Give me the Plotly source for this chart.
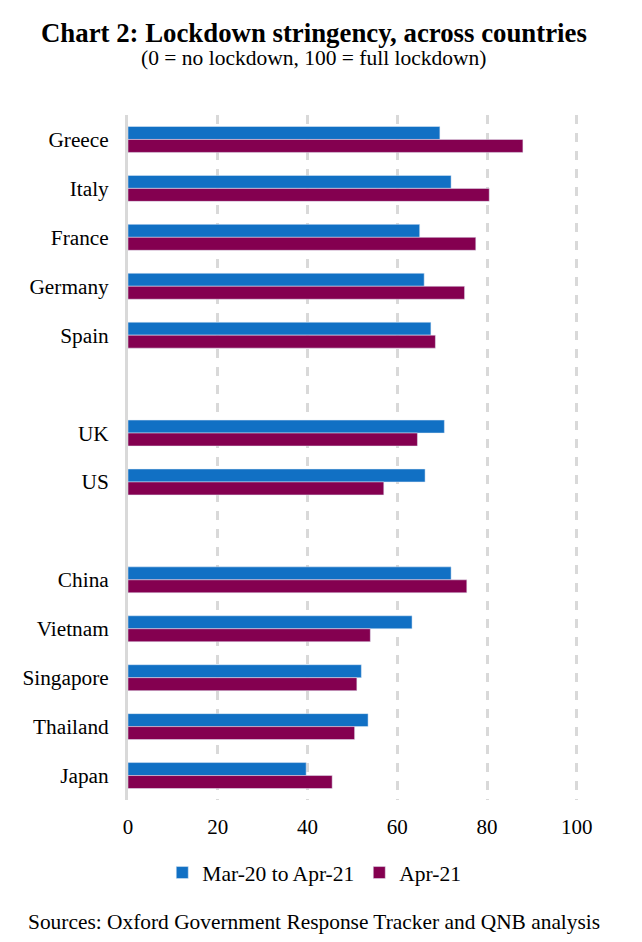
import plotly.graph_objects as go

# blank names keep the gaps between country groups
countries = ['Greece', 'Italy', 'France', 'Germany', 'Spain', ' ', 'UK', 'US', '  ',
             'China', 'Vietnam', 'Singapore', 'Thailand', 'Japan']
avg_period = [69.5, 72, 65, 66, 67.5, None, 70.5, 66.2, None, 72, 63.3, 52, 53.5, 39.7]
apr_21 = [88, 80.5, 77.5, 75, 68.5, None, 64.5, 57, None, 75.5, 54, 51, 50.5, 45.5]
x_ticks = [0, 20, 40, 60, 80, 100]

FONT = 'Liberation Serif'
BLUE = '#1170C4'
MAROON = '#840050'

fig = go.Figure()
fig.add_trace(go.Bar(y=countries, x=avg_period, name='Mar-20 to Apr-21', orientation='h',
                     marker=dict(color=BLUE)))
fig.add_trace(go.Bar(y=countries, x=apr_21, name='Apr-21', orientation='h',
                     marker=dict(color=MAROON)))

fig.update_layout(
    width=642, height=942,
    margin=dict(l=120, r=71, t=107, b=150),
    paper_bgcolor='white', plot_bgcolor='white',
    font=dict(family=FONT, size=21.5, color='black'),
    barmode='group', bargap=0.47, bargroupgap=0,
    legend=dict(orientation='h', x=0.413, xanchor='center', y=-0.076, yanchor='top',
                font=dict(size=21.5), itemwidth=30),
    showlegend=True,
)
# range runs a little past 100 so the last gridline is drawn
fig.update_xaxes(range=[0, 100.5], tickvals=x_ticks, showgrid=True, gridcolor='#d9d9d9',
                 griddash='dash', gridwidth=3, zeroline=False, showline=False,
                 ticklen=0, ticks='', tickfont=dict(size=21), ticklabelstandoff=12, automargin=False)
fig.update_yaxes(categoryorder='array', categoryarray=countries, autorange='reversed',
                 showline=True, linecolor='#d9d9d9', linewidth=3, showgrid=False,
                 ticks='', tickfont=dict(size=21.3), ticklabelstandoff=12, automargin=False)

fig.add_annotation(text='<b>Chart 2: Lockdown stringency, across countries</b>', xref='paper', yref='paper',
                   x=0.412, y=1.145, showarrow=False, font=dict(size=26.8))
fig.add_annotation(text='(0 = no lockdown, 100 = full lockdown)', xref='paper', yref='paper',
                   x=0.412, y=1.104, showarrow=False, font=dict(size=21.5))
fig.add_annotation(text='Sources: Oxford Government Response Tracker and QNB analysis', xref='paper', yref='paper',
                   x=0.412, y=-0.199, showarrow=False, font=dict(size=21.4))

fig.write_html("out.html")
